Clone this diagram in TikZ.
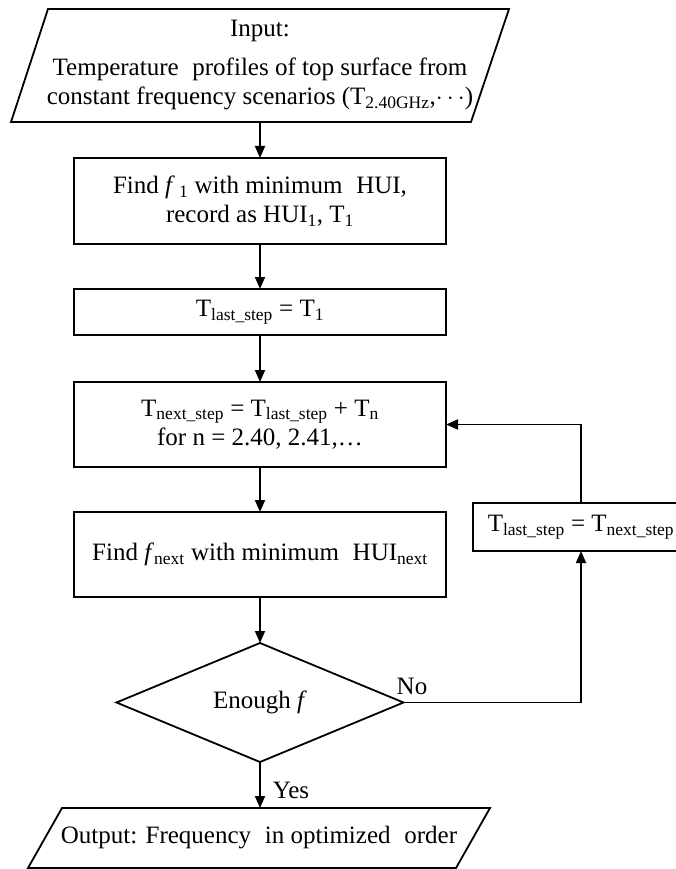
\documentclass[tikz,border=0pt]{standalone}
\usepackage{fontspec}
\setmainfont{Liberation Serif}
\usetikzlibrary{arrows.meta,shapes.geometric}
\newcommand{\wsp}{\hspace{0.55em}}
\begin{document}
\begin{tikzpicture}[x=1pt,y=-1pt,line width=1.8pt,
  every node/.style={font=\fontsize{25}{29}\selectfont,inner sep=0pt,outer sep=0pt},
  box/.style={draw,rectangle,minimum width=372pt,align=center},
  ghost/.style={rectangle,align=center},
  decision/.style={draw,diamond,minimum width=287pt,minimum height=119pt},
  arr/.style={-{Triangle[length=12pt,width=10pt]}},
  lbl/.style={}]
\useasboundingbox (0,0) rectangle (675,869);
% input parallelogram
\node[ghost,minimum width=498pt,minimum height=113pt] (in) at (260,65.5)
  {Input:\\[10pt] Temperature\wsp profiles of top surface from\\ constant frequency scenarios (T\textsubscript{2.40GHz},$\cdots$)};
\draw ([xshift=37pt]in.north west) -- (in.north east) -- ([xshift=-38pt]in.south east) -- (in.south west) -- cycle;
\node[box,minimum height=86pt] (b1) at (260,201)
  {Find \textit{f}\,\textsubscript{1} with minimum\wsp HUI,\\ record as HUI\textsubscript{1}, T\textsubscript{1}};
\node[box,minimum height=46pt] (b2) at (260,312) {T\textsubscript{last\_step} = T\textsubscript{1}};
\node[box,minimum height=85pt] (b3) at (260,424.5)
  {T\textsubscript{next\_step} = T\textsubscript{last\_step} + T\textsubscript{n}\\ for n = 2.40, 2.41,\dots};
\node[box,minimum height=85pt] (b4) at (260,554.5)
  {\smash{\raisebox{-6pt}{Find \textit{f}\textsubscript{next} with minimum\wsp HUI\textsubscript{next}}}};
\node[decision] (d) at (260,702.5) {Enough \textit{f}};
\node[ghost,minimum width=462pt,minimum height=60pt] (out) at (259,838)
  {Output: Frequency\wsp in optimized\wsp order};
\draw ([xshift=34pt]out.north west) -- (out.north east) -- ([xshift=-34pt]out.south east) -- (out.south west) -- cycle;
\node[box,minimum width=216pt,minimum height=48pt] (rb) at (581,527)
  {T\textsubscript{last\_step} = T\textsubscript{next\_step}};
% connectors
\draw[arr] (in.south) -- (b1.north);
\draw[arr] (b1.south) -- (b2.north);
\draw[arr] (b2.south) -- (b3.north);
\draw[arr] (b3.south) -- (b4.north);
\draw[arr] (b4.south) -- (d.north);
\draw[arr] (d.south) -- (d.south |- out.north);
\draw[arr] (d.east) -| (rb.south);
\draw[arr] (rb.north) |- (b3.east);
\node[lbl] (yes) at (291,790) {Yes};
\node[lbl] (no) at (412,686) {No};
\end{tikzpicture}
\end{document}
